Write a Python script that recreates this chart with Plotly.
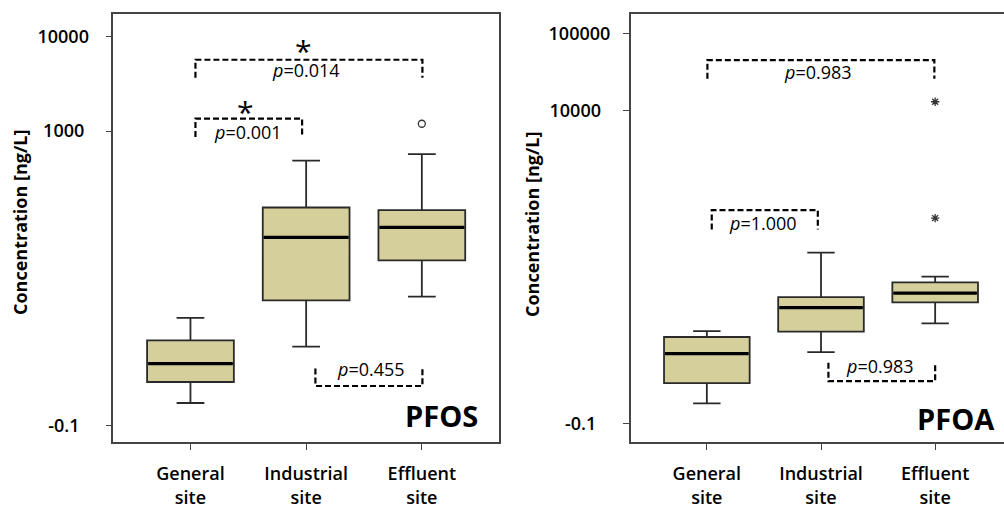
import numpy as np
import plotly.graph_objects as go

categories = ["General<br>site", "Industrial<br>site", "Effluent<br>site"]
xpos = [0, 1, 2]

# PFOS (ng/L)
pfos_lower = [1.37, 5.38, 18.1]
pfos_q1 = [2.28, 16.5, 43.6]
pfos_median = [3.56, 76.0, 96.8]
pfos_q3 = [6.27, 157, 147]
pfos_upper = [10.8, 488, 573]
pfos_outlier_x = [2]
pfos_outlier_y = [1197]

# PFOA (ng/L)
pfoa_lower = [1.46, 6.85, 16.3]
pfoa_q1 = [2.70, 12.7, 30.6]
pfoa_median = [6.53, 26.1, 40.6]
pfoa_q3 = [10.8, 36.0, 56.0]
pfoa_upper = [12.9, 137, 66.4]
pfoa_outlier_x = [2, 2]
pfoa_outlier_y = [12900, 388]

NB = "\u00a0"
left_ticks = [10000, 1000, 10 ** -0.1]
left_ticktext = ["10000", "1000" + NB, "-0.1" + NB * 2]
right_ticks = [100000, 10000, 10 ** -0.1]
right_ticktext = ["100000", "10000" + NB * 2, "-0.1" + NB * 3]

FILL = "#d4cf9b"
FONT = "Open Sans"
BOXW = 0.75

fig = go.Figure()

def add_panel(xa, ya, lower, q1, med, q3, upper, ox, oy, osym, osize):
    fig.add_trace(go.Box(
        x=xpos, q1=q1, median=med, q3=q3, lowerfence=lower, upperfence=upper,
        width=BOXW, whiskerwidth=0.32, fillcolor=FILL,
        line=dict(color="#2a2a2a", width=1.8), xaxis=xa, yaxis=ya,
        showlegend=False, hoverinfo="skip"))
    for i, m in zip(xpos, med):
        fig.add_trace(go.Scatter(
            x=[i - BOXW / 2 + 0.01, i + BOXW / 2 - 0.01], y=[m, m], mode="lines",
            line=dict(color="black", width=3.2), xaxis=xa, yaxis=ya,
            showlegend=False, hoverinfo="skip"))
    fig.add_trace(go.Scatter(
        x=ox, y=oy, mode="markers",
        marker=dict(symbol=osym, size=osize, color="#333333",
                    line=dict(color="#333333", width=1.3)),
        xaxis=xa, yaxis=ya, showlegend=False, hoverinfo="skip"))

add_panel("x", "y", pfos_lower, pfos_q1, pfos_median, pfos_q3, pfos_upper,
          pfos_outlier_x, pfos_outlier_y, "circle-open", 7)
add_panel("x2", "y2", pfoa_lower, pfoa_q1, pfoa_median, pfoa_q3, pfoa_upper,
          pfoa_outlier_x, pfoa_outlier_y, "asterisk-open", 7)

# brackets: (axis, x0, x1, level, leg_end) in log10 units
brackets = [
    ("x", "y", 0.043, 2.005, 3.752, 3.562),
    ("x", "y", 0.043, 0.965, 3.131, 2.937),
    ("x", "y", 1.08, 2.005, 0.316, 0.499),
    ("x2", "y2", 0.005, 1.993, 4.655, 4.412),
    ("x2", "y2", 0.043, 0.972, 2.693, 2.441),
    ("x2", "y2", 1.065, 2.0, 0.457, 0.698),
]
for xa, ya, x0, x1, lv, le in brackets:
    fig.add_trace(go.Scatter(
        x=[x0, x0, x1, x1], y=[10 ** le, 10 ** lv, 10 ** lv, 10 ** le],
        mode="lines", line=dict(color="black", width=2.2, dash="6px,3px"),
        xaxis=xa, yaxis=ya, showlegend=False, hoverinfo="skip"))

pvals = [
    ("x", "y", 1.0, 3.64, "0.014"),
    ("x", "y", 0.5, 2.99, "0.001"),
    ("x", "y", 1.56, 0.50, "0.455"),
    ("x2", "y2", 0.975, 4.50, "0.983"),
    ("x2", "y2", 0.49, 2.52, "1.000"),
    ("x2", "y2", 1.52, 0.65, "0.983"),
]
for xa, ya, x, y, t in pvals:
    fig.add_annotation(x=x, y=y, xref=xa, yref=ya, text="<i>p</i>=" + t,
                       showarrow=False, font=dict(family=FONT, size=18, color="black"))

# significance stars
for x, y in [(0.98, 3.611), (0.48, 2.968)]:
    fig.add_annotation(x=x, y=y, xref="x", yref="y", text="*", showarrow=False,
                       yanchor="bottom",
                       font=dict(family=FONT, size=30, color="black"))

fig.add_annotation(x=480 / 1004, y=1 - 415 / 505, xref="paper", yref="paper",
                   text="<b>PFOS</b>", showarrow=False, xanchor="right", yanchor="middle",
                   font=dict(family=FONT, size=29, color="black"))
fig.add_annotation(x=997 / 1004, y=1 - 418 / 505, xref="paper", yref="paper",
                   text="<b>PFOA</b>", showarrow=False, xanchor="right", yanchor="middle",
                   font=dict(family=FONT, size=29, color="black"))

for x, y in [(20 / 1004, 1 - 222 / 505), (532 / 1004, 1 - 224 / 505)]:
    fig.add_annotation(x=x, y=y, xref="paper", yref="paper",
                       text="<b>Concentration [ng/L]</b>", textangle=-90,
                       xanchor="center", yanchor="middle",
                       showarrow=False, font=dict(family=FONT, size=18, color="black"))

ydom = [1 - 442 / 505, 1 - 13.5 / 505]
xcommon = dict(tickvals=xpos, ticktext=categories, ticks="outside", ticklen=6,
               tickcolor="#444", showline=True, linecolor="#444", linewidth=1.5,
               showgrid=False, zeroline=False, fixedrange=True, ticklabelstandoff=9,
               automargin=False,
               tickfont=dict(family=FONT, size=18, color="black", weight=600))
ycommon = dict(type="log", ticks="outside", ticklen=6, tickcolor="#444",
               showline=True, linecolor="#444", linewidth=1.5, showgrid=False,
               zeroline=False, automargin=False,
               tickfont=dict(family=FONT, size=18, color="black", weight=600))

fig.update_layout(
    width=1004, height=505, margin=dict(l=0, r=0, t=0, b=0, autoexpand=False),
    paper_bgcolor="white", plot_bgcolor="white", showlegend=False,
    xaxis=dict(domain=[113.3 / 1004, 499 / 1004], range=[-0.667, 2.667], mirror=True,
               anchor="y", **xcommon),
    yaxis=dict(domain=ydom, range=[-0.274, 4.239], tickvals=left_ticks,
               ticktext=left_ticktext, mirror=True, anchor="x", ticklabelstandoff=13,
               **ycommon),
    xaxis2=dict(domain=[630.7 / 1004, 1.0], range=[-0.667, 2.603], mirror=True,
                anchor="y2", **xcommon),
    yaxis2=dict(domain=ydom, range=[-0.34, 5.265], tickvals=right_ticks,
                ticktext=right_ticktext, mirror=False, anchor="x2", ticklabelstandoff=9,
                **ycommon),
)

fig.write_html("out.html")
